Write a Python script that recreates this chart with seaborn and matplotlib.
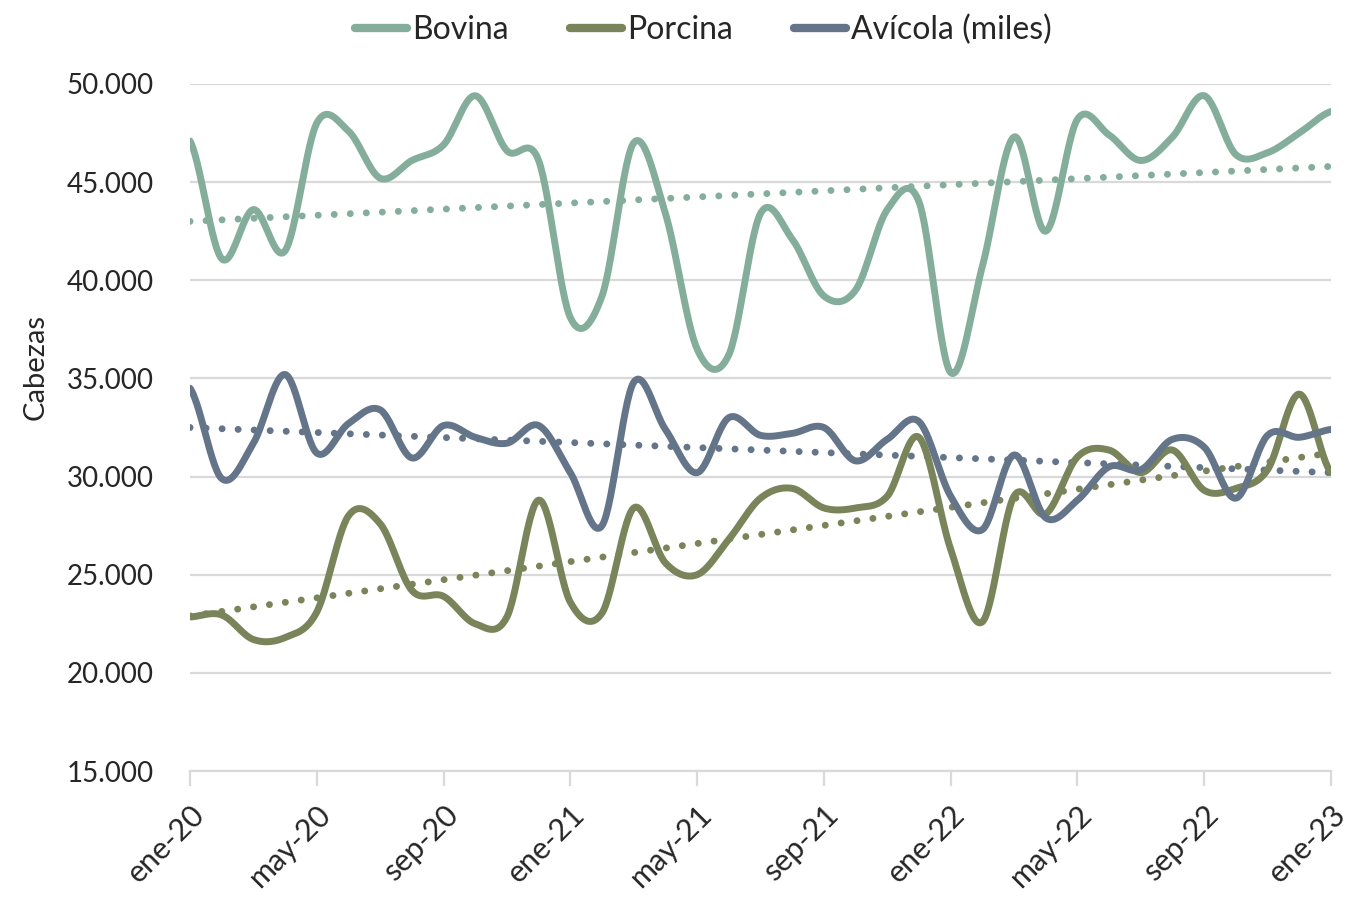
import pandas as pd
import numpy as np
import seaborn as sns
import matplotlib.pyplot as plt
from matplotlib.transforms import ScaledTranslation

# monthly series, ene-20 .. ene-23 (thousands of heads)
meses = ['ene', 'feb', 'mar', 'abr', 'may', 'jun', 'jul', 'ago', 'sep', 'oct', 'nov', 'dic']
periodos = [f'{meses[i % 12]}-{20 + i // 12}' for i in range(37)]

bovina = [47.1, 41.1, 43.6, 41.5, 48.0, 47.6, 45.2, 46.1, 46.9, 49.4, 46.6, 46.1,
          38.1, 39.2, 47.0, 43.4, 36.5, 36.2, 43.4, 42.1, 39.2, 39.5, 43.6, 44.0,
          35.3, 40.7, 47.3, 42.5, 48.2, 47.4, 46.1, 47.3, 49.4, 46.4, 46.5, 47.5, 48.6]
porcina = [22.85, 22.95, 21.7, 21.8, 23.1, 28.0, 27.6, 24.2, 23.9, 22.5, 22.85, 28.8,
           23.6, 23.05, 28.4, 25.6, 25.0, 26.8, 28.9, 29.4, 28.4, 28.4, 29.0, 32.0,
           26.3, 22.6, 29.0, 28.1, 31.0, 31.35, 30.2, 31.35, 29.3, 29.4, 30.35, 34.2, 30.2]
avicola = [34.5, 29.9, 31.7, 35.2, 31.2, 32.7, 33.4, 30.95, 32.6, 32.0, 31.7, 32.6,
           30.2, 27.5, 34.8, 32.4, 30.2, 33.0, 32.1, 32.2, 32.5, 30.8, 31.9, 32.8,
           29.0, 27.3, 31.1, 27.9, 28.8, 30.5, 30.35, 31.9, 31.5, 28.9, 32.1, 32.0, 32.4]

# linear trend lines, value at ene-20 and at ene-23
tend_bovina = [43.0, 45.8]
tend_porcina = [22.9, 31.2]
tend_avicola = [32.5, 30.2]

series = {'Bovina': bovina, 'Porcina': porcina, 'Avícola (miles)': avicola}
tendencias = {'Bovina': tend_bovina, 'Porcina': tend_porcina, 'Avícola (miles)': tend_avicola}
colores = {'Bovina': '#84AE9B', 'Porcina': '#7A845A', 'Avícola (miles)': '#64758A'}


def suavizar(y, n=30):
    # Excel-style smoothed line (uniform Catmull-Rom through every point)
    y = np.asarray(y, dtype=float) * 1000
    p = np.concatenate([[y[0]], y, [y[-1]]])
    xs, ys = [], []
    t = np.linspace(0, 1, n, endpoint=False)
    for i in range(len(y) - 1):
        p0, p1, p2, p3 = p[i], p[i + 1], p[i + 2], p[i + 3]
        c1 = p1 + (p2 - p0) / 6
        c2 = p2 - (p3 - p1) / 6
        b = (1 - t) ** 3 * p1 + 3 * (1 - t) ** 2 * t * c1 + 3 * (1 - t) * t ** 2 * c2 + t ** 3 * p2
        xs.extend(i + t)
        ys.extend(b)
    xs.append(len(y) - 1)
    ys.append(y[-1])
    return np.array(xs), np.array(ys)


frames = []
for nombre, vals in series.items():
    xs, ys = suavizar(vals)
    frames.append(pd.DataFrame({'mes': xs, 'cabezas': ys, 'serie': nombre}))
df = pd.concat(frames, ignore_index=True)

sns.set_style('white')
plt.rcParams['font.family'] = ['Lato', 'DejaVu Sans']

fig = plt.figure(figsize=(13.63, 8.98), dpi=100)
ax = fig.add_axes([0.1394, 0.1414, 0.8371, 0.7651])

for y in range(15000, 50001, 5000):
    ax.axhline(y, color='#D9D9D9', lw=1.6, zorder=0)

sns.lineplot(data=df, x='mes', y='cabezas', hue='serie', palette=colores,
             linewidth=5, ax=ax, sort=False, estimator=None)

ends = [0, len(periodos) - 1]
for nombre, tv in tendencias.items():
    ax.plot(ends, np.asarray(tv) * 1000, color=colores[nombre], lw=5,
            linestyle=(0, (0.01, 2.3)), dash_capstyle='round', zorder=1)

ax.set_xlim(0, 36)
ax.set_ylim(15000, 50000)
ax.set_yticks(range(15000, 50001, 5000))
ax.set_yticklabels([f'{v:,}'.replace(',', '.') for v in range(15000, 50001, 5000)], fontsize=20)
ax.set_xticks(range(0, 37, 4))
ax.set_xticklabels([periodos[i] for i in range(0, 37, 4)], rotation=45, ha='right',
                   rotation_mode='anchor', fontsize=22)
shift = ScaledTranslation(8 / 100, 0, fig.dpi_scale_trans)
for lab in ax.get_xticklabels():
    lab.set_transform(lab.get_transform() + shift)
ax.tick_params(axis='x', length=11, width=1.6, color='#D9D9D9', bottom=True, pad=10)
ax.tick_params(axis='y', length=0, pad=26)
ax.set_xlabel('')
ax.set_ylabel('Cabezas', fontsize=21)
ax.yaxis.set_label_coords(-0.124, 0.588)

for s in ['top', 'right', 'left']:
    ax.spines[s].set_visible(False)
ax.spines['bottom'].set_color('#D9D9D9')
ax.spines['bottom'].set_linewidth(1.6)
ax.spines['bottom'].set_zorder(0)

ax.get_legend().remove()
handles = [plt.Line2D([], [], color=colores[k], lw=6, solid_capstyle='round') for k in series]
fig.legend(handles, list(series.keys()), loc='upper center', bbox_to_anchor=(0.516, 1.016),
           ncol=3, frameon=False, fontsize=23, handlelength=1.65, handletextpad=0.15,
           columnspacing=1.9)

fig.savefig('out.png', dpi=100)
